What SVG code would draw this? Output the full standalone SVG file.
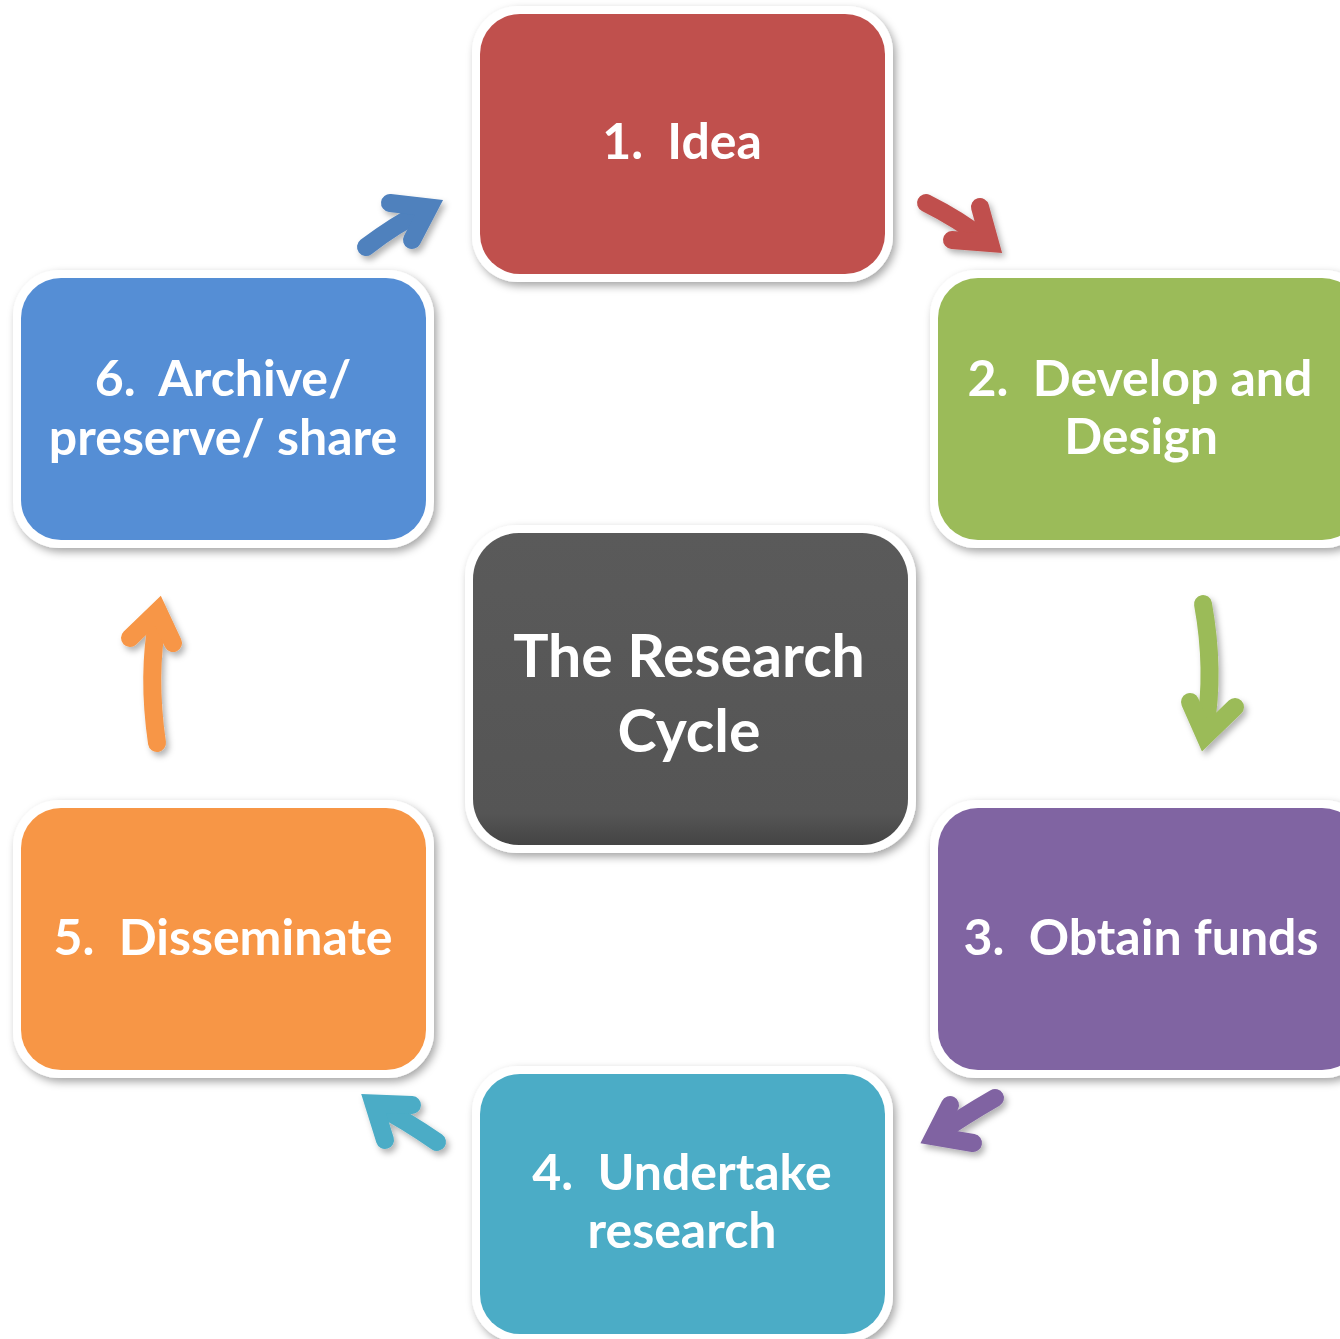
<svg xmlns="http://www.w3.org/2000/svg" width="1340" height="1339" viewBox="0 0 1340 1339">
<defs>
<filter id="sh" x="-10%" y="-10%" width="125%" height="125%">
<feDropShadow dx="3" dy="4" stdDeviation="4" flood-color="#000" flood-opacity="0.35"/>
</filter>
<filter id="ash" x="-20%" y="-20%" width="150%" height="150%">
<feDropShadow dx="3" dy="4" stdDeviation="3" flood-color="#000" flood-opacity="0.3"/>
</filter>
<linearGradient id="cg" x1="0" y1="0" x2="0" y2="1">
<stop offset="0" stop-color="#5a5a5a"/>
<stop offset="0.9" stop-color="#555"/>
<stop offset="1" stop-color="#444"/>
</linearGradient>
</defs>
<style>
.frame{fill:#fff;}
.lbl{font-family:"Lato","Open Sans",sans-serif;font-weight:bold;font-size:50px;fill:#fff;text-anchor:middle;white-space:pre;}
.big{font-size:59px;}
.arr{fill:none;stroke-width:18;stroke-linecap:round;stroke-linejoin:miter;stroke-miterlimit:10;}
</style>
<rect width="1340" height="1339" fill="#fff"/>
<g id="node1">
<rect class="frame" x="472" y="6" width="421" height="276" rx="46" filter="url(#sh)"/>
<rect x="480" y="14" width="405" height="260" rx="40" fill="#C0504D"/>
<text class="lbl" x="682" y="159">1.  Idea</text>
</g>
<g id="node2">
<rect class="frame" x="930" y="270" width="440" height="278" rx="46" filter="url(#sh)"/>
<rect x="938" y="278" width="424" height="262" rx="40" fill="#9BBB59"/>
<text class="lbl" x="1140" y="396">2.  Develop and</text>
<text class="lbl" x="1141" y="454">Design</text>
</g>
<g id="node3">
<rect class="frame" x="930" y="800" width="440" height="278" rx="46" filter="url(#sh)"/>
<rect x="938" y="808" width="424" height="262" rx="40" fill="#8064A2"/>
<text class="lbl" x="1141" y="955">3.  Obtain funds</text>
</g>
<g id="node4">
<rect class="frame" x="472" y="1066" width="421" height="276" rx="46" filter="url(#sh)"/>
<rect x="480" y="1074" width="405" height="260" rx="40" fill="#4BACC6"/>
<text class="lbl" x="682" y="1190">4.  Undertake</text>
<text class="lbl" x="682" y="1248">research</text>
</g>
<g id="node5">
<rect class="frame" x="13" y="800" width="421" height="278" rx="46" filter="url(#sh)"/>
<rect x="21" y="808" width="405" height="262" rx="40" fill="#F79646"/>
<text class="lbl" x="223" y="955">5.  Disseminate</text>
</g>
<g id="node6">
<rect class="frame" x="13" y="270" width="421" height="278" rx="46" filter="url(#sh)"/>
<rect x="21" y="278" width="405" height="262" rx="40" fill="#558ED5"/>
<text class="lbl" x="223" y="396">6.  Archive/</text>
<text class="lbl" x="223" y="455">preserve/ share</text>
</g>
<g id="center">
<rect class="frame" x="465" y="525" width="451" height="328" rx="52" filter="url(#sh)"/>
<rect x="473" y="533" width="435" height="312" rx="46" fill="url(#cg)"/>
<text class="lbl big" x="689" y="677">The Research</text>
<text class="lbl big" x="689" y="752">Cycle</text>
</g>
<g id="connectors" filter="url(#ash)">
<path class="arr" stroke="#4F81BD" d="M366 247 Q396 224 425 210"/>
<path class="arr" stroke="#4F81BD" d="M390 203 L429 207.5 L412 240"/>
<path class="arr" stroke="#C0504D" d="M926 203 Q960 220 985 240"/>
<path class="arr" stroke="#C0504D" d="M980 207 L990 243 L952 240"/>
<path class="arr" stroke="#9BBB59" d="M1203 604 Q1215 670 1205 730"/>
<path class="arr" stroke="#9BBB59" d="M1190 702 L1205 736 L1235 707"/>
<path class="arr" stroke="#8064A2" d="M995 1098 Q962 1117 938 1134"/>
<path class="arr" stroke="#8064A2" d="M950 1105 L934 1136.5 L973 1143"/>
<path class="arr" stroke="#4BACC6" d="M437 1142 Q405 1120 378 1106"/>
<path class="arr" stroke="#4BACC6" d="M412 1105 L373.6 1103.4 L385 1140"/>
<path class="arr" stroke="#F79646" d="M157 743 Q147 675 158 617"/>
<path class="arr" stroke="#F79646" d="M130 638 L158 611 L173 643"/>
</g>
</svg>
